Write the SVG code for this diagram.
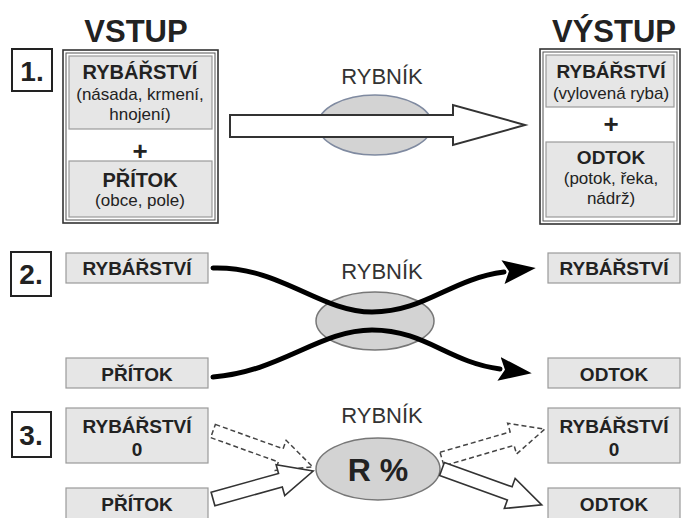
<svg xmlns="http://www.w3.org/2000/svg" width="689" height="518" viewBox="0 0 689 518">
<style>
text{font-family:"Liberation Sans",Arial,sans-serif;fill:#222;text-anchor:middle}
.t{font-size:19px;font-weight:bold}
.t1{font-size:20px;font-weight:bold}
.s{font-size:17px}
.h{font-size:31px;font-weight:bold}
.n{font-size:28px;font-weight:bold}
.r{font-size:22px;fill:#333}
.plus{font-size:26px;font-weight:bold}
.box{fill:#e6e6e6;stroke:#9a9a9a;stroke-width:1.2}
.outer{fill:#fff;stroke:#333;stroke-width:1.6}
.inner{fill:none;stroke:#555;stroke-width:1}
.num{fill:#fff;stroke:#222;stroke-width:2}
.pond{fill:#d3d3d3;stroke:#777;stroke-width:1.5}
.flow{fill:none;stroke:#000;stroke-width:5;stroke-linecap:round}
.blk{fill:#fff;stroke:#333;stroke-width:2}
.dash{fill:#fff;stroke:#444;stroke-width:1.5;stroke-dasharray:5 3}
</style>
<defs>
<marker id="ah" markerUnits="userSpaceOnUse" markerWidth="34" markerHeight="26" refX="1" refY="13" orient="auto">
<path d="M0,1 L33,13 L0,25 L6,13 z" fill="#000"/>
</marker>
</defs>

<!-- Section 1 -->
<g id="n1-label"><rect class="num" x="12" y="49" width="40" height="42"/><text class="n" x="32" y="81">1.</text></g>
<g id="vstup">
<text class="h" x="136" y="42">VSTUP</text>
<rect class="outer" x="63" y="50" width="155" height="173"/>
<rect class="inner" x="66" y="53" width="149" height="167"/>
</g>
<g id="in-rybarstvi"><rect class="box" x="69" y="56" width="143" height="73"/>
<text class="t1" x="140" y="79">RYBÁŘSTVÍ</text>
<text class="s" x="140" y="100">(násada, krmení,</text>
<text class="s" x="140" y="120">hnojení)</text></g>
<text class="plus" x="140" y="160">+</text>
<g id="in-pritok"><rect class="box" x="69" y="161" width="143" height="56"/>
<text class="t1" x="140" y="187">PŘÍTOK</text>
<text class="s" x="140" y="206">(obce, pole)</text></g>

<g id="vystup">
<text class="h" x="614" y="42">VÝSTUP</text>
<rect class="outer" x="540" y="49" width="140" height="175"/>
<rect class="inner" x="543" y="52" width="134" height="169"/>
</g>
<g id="out-rybarstvi"><rect class="box" x="546" y="55" width="128" height="52"/>
<text class="t" x="611" y="78">RYBÁŘSTVÍ</text>
<text class="s" x="611" y="99">(vylovená ryba)</text></g>
<text class="plus" x="611" y="133">+</text>
<g id="out-odtok"><rect class="box" x="546" y="142" width="128" height="75"/>
<text class="t" x="611" y="164">ODTOK</text>
<text class="s" x="611" y="184">(potok, řeka,</text>
<text class="s" x="611" y="204">nádrž)</text></g>

<g id="pond1"><text class="r" x="382" y="84">RYBNÍK</text>
<ellipse cx="375" cy="125" rx="57" ry="30" fill="#d3d3d3" stroke="#7f8aa0" stroke-width="1.5"/></g>

<!-- Section 2 -->
<g id="n2-label"><rect class="num" x="11" y="252" width="40" height="44"/><text class="n" x="31" y="284">2.</text></g>
<g id="s2-rybarstvi-in"><rect class="box" x="66" y="253" width="142" height="30"/><text class="t" x="137" y="275">RYBÁŘSTVÍ</text></g>
<g id="s2-pritok"><rect class="box" x="66" y="358" width="142" height="30"/><text class="t" x="137" y="381">PŘÍTOK</text></g>
<g id="s2-rybarstvi-out"><rect class="box" x="548" y="253" width="132" height="30"/><text class="t" x="614" y="275">RYBÁŘSTVÍ</text></g>
<g id="s2-odtok"><rect class="box" x="548" y="358" width="132" height="30"/><text class="t" x="614" y="381">ODTOK</text></g>
<g id="pond2"><text class="r" x="382" y="279">RYBNÍK</text>
<ellipse class="pond" cx="375" cy="321" rx="59" ry="29"/></g>

<!-- Section 3 -->
<g id="n3-label"><rect class="num" x="12" y="412" width="39" height="45"/><text class="n" x="31" y="445">3.</text></g>
<g id="s3-rybarstvi-in"><rect class="box" x="66" y="408" width="142" height="55"/><text class="t" x="137" y="433">RYBÁŘSTVÍ</text><text class="t" x="137" y="456">0</text></g>
<g id="s3-pritok"><rect class="box" x="66" y="488" width="142" height="36"/><text class="t" x="137" y="511">PŘÍTOK</text></g>
<g id="s3-rybarstvi-out"><rect class="box" x="548" y="408" width="132" height="55"/><text class="t" x="614" y="433">RYBÁŘSTVÍ</text><text class="t" x="614" y="456">0</text></g>
<g id="s3-odtok"><rect class="box" x="548" y="488" width="132" height="36"/><text class="t" x="614" y="511">ODTOK</text></g>
<g id="pond3"><text class="r" x="382" y="423">RYBNÍK</text>
<ellipse class="pond" cx="378" cy="469" rx="62" ry="31"/>
<text x="378" y="481" style="font-size:32px;font-weight:bold">R %</text></g>

<!-- Connectors -->
<g id="connectors">
<polygon class="blk" points="230,115 453,115 453,105 525,125 453,145 453,137 230,137"/>
<path class="flow" d="M213,268 C280,266 320,312 372,312 C425,312 450,279 504,272" marker-end="url(#ah)"/>
<path class="flow" d="M213,377 C280,372 320,330 372,330 C425,330 448,362 500,369" marker-end="url(#ah)"/>
<polygon class="dash" transform="translate(213,431) rotate(19.8)" points="0,-7 72,-7 72,-16 106,0 72,16 72,7 0,7"/>
<polygon class="blk" transform="translate(213,499) rotate(-15.6)" points="0,-7 70,-7 70,-16 104,0 70,16 70,7 0,7" style="stroke-width:1.6"/>
<polygon class="dash" transform="translate(442,459) rotate(-16.2)" points="0,-7 73,-7 73,-16 107,0 73,16 73,7 0,7"/>
<polygon class="blk" transform="translate(442,469) rotate(19.8)" points="0,-7 72,-7 72,-16 106,0 72,16 72,7 0,7" style="stroke-width:1.6"/>
</g>
</svg>
